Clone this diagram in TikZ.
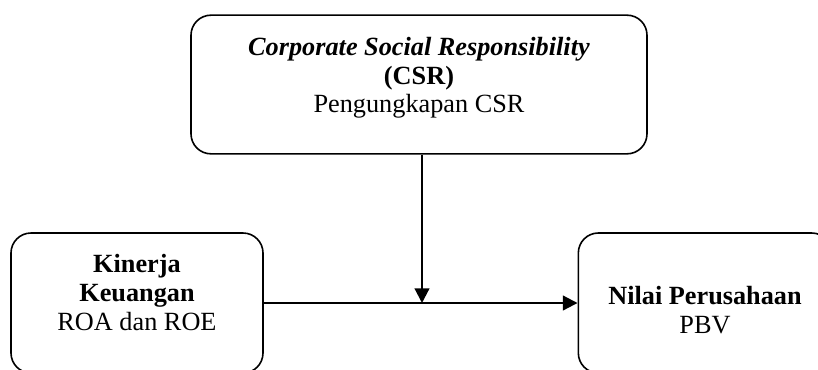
\documentclass[tikz,border=0pt]{standalone}
\usepackage{fontspec}
\setmainfont{Liberation Serif}
\usepackage{tikz}
\usetikzlibrary{positioning, calc, arrows.meta}

\begin{document}
\begin{tikzpicture}[x=0.75pt, y=-0.75pt, >={Triangle[length=11pt, width=11pt]}]

    % --- Styles ---
    \tikzset{
        varbox/.style={draw, line width=1.2pt, rounded corners=15pt, align=center,
            font=\fontsize{19.7}{21.5}\selectfont},
        link/.style={->, line width=1.6pt}
    }

    % --- Page frame ---
    \useasboundingbox (0, 0) rectangle (818, 369);

    % --- Boxes ---
    % CSR (moderator)
    \node[varbox, minimum width=342pt, minimum height=104pt] (csr) at (419, 84.5)
        {\textbf{\textit{Corporate Social Responsibility}}\\ \textbf{(CSR)}\\
         Pengungkapan CSR\rule[-14pt]{0pt}{1pt}};

    % Kinerja Keuangan (independent)
    \node[varbox, minimum width=189pt, minimum height=105pt] (kinerja) at (137, 303)
        {\textbf{Kinerja}\\ \textbf{Keuangan}\\ ROA dan ROE\rule[-16pt]{0pt}{1pt}};

    % Nilai Perusahaan (dependent)
    \node[varbox, minimum width=190pt, minimum height=105pt] (nilai) at (705, 303)
        {\rule{0pt}{24pt}\textbf{Nilai Perusahaan}\\ PBV};

    % --- Connectors ---
    \coordinate (join) at (422, 303);
    \draw[link] (kinerja.east) -- (nilai.west);
    \draw[link] (csr.south -| join) -- (join);

\end{tikzpicture}
\end{document}
